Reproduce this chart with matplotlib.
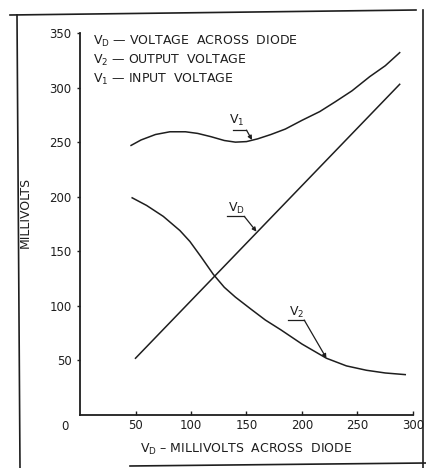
import matplotlib.pyplot as plt
from matplotlib.lines import Line2D

# values (millivolts)
v1_x = [46, 55, 68, 81, 95, 106, 118, 130, 140, 150, 160, 172, 185, 200, 216, 230, 245, 261, 275, 288]
v1_y = [247, 252, 257, 259.5, 259.5, 258, 255, 251.5, 250, 250.5, 253, 257, 262, 270, 278, 287, 297, 310, 320, 332]

v2_x = [47, 60, 75, 90, 99, 109, 120, 130, 140, 154, 167, 181, 200, 222, 240, 258, 275, 293]
v2_y = [199, 192, 182, 169, 159, 145, 129, 117, 108, 97, 87, 78, 65, 52, 45, 41, 38.5, 37]

vd_x = [50, 288]
vd_y = [52, 303]

x_ticks = [50, 100, 150, 200, 250, 300]
y_ticks = [50, 100, 150, 200, 250, 300, 350]

legend_lines = [r"$\mathregular{V_D}$ — VOLTAGE  ACROSS  DIODE",
                r"$\mathregular{V_2}$ — OUTPUT  VOLTAGE",
                r"$\mathregular{V_1}$ — INPUT  VOLTAGE"]

plt.rcParams["font.family"] = "DejaVu Sans"
ink = "#1e1e1e"

fig = plt.figure(figsize=(4.26, 4.68), dpi=100)
ax = fig.add_axes([80 / 426, 1 - 415 / 468, 333 / 426, 382 / 468])

ax.plot(v1_x, v1_y, color=ink, lw=1.1)
ax.plot(v2_x, v2_y, color=ink, lw=1.1)
ax.plot(vd_x, vd_y, color=ink, lw=1.1)

ax.set_xlim(0, 300)
ax.set_ylim(0, 350)
for s in ["top", "right"]:
    ax.spines[s].set_visible(False)
for s in ["left", "bottom"]:
    ax.spines[s].set_linewidth(1.3)
    ax.spines[s].set_color(ink)

ax.set_xticks(x_ticks)
ax.set_yticks(y_ticks)
ax.tick_params(axis="both", direction="in", length=3, width=1, colors=ink,
               labelsize=8.5, pad=3)
ax.tick_params(axis="y", direction="out", length=2, pad=4)

# shared origin label
ax.text(-0.045, -0.03, "0", transform=ax.transAxes, ha="center", va="center",
        fontsize=8.5, color=ink)

ax.set_xlabel(r"$\mathregular{V_D}$ – MILLIVOLTS  ACROSS  DIODE", fontsize=9,
              color=ink, labelpad=7)
ax.set_ylabel("MILLIVOLTS", fontsize=9, color=ink)
ax.yaxis.set_label_coords(-0.145, 0.53)

# legend block at top
for i, t in enumerate(legend_lines):
    ax.text(12, 342 - i * 17.5, t, fontsize=9, color=ink, ha="left", va="center")

# labels with underline and leader arrow
callouts = [("$\\mathregular{V_1}$", (141, 270), (137.5, 150), 261, (155, 252)),
            ("$\\mathregular{V_D}$", (141, 189), (132, 148), 182, (159, 168)),
            ("$\\mathregular{V_2}$", (195, 94), (187, 202), 87, (222, 52))]
for txt, pos, (u0, u1), uy, tip in callouts:
    ax.text(pos[0], pos[1], txt, fontsize=9, color=ink, ha="center", va="center")
    ax.plot([u0, u1], [uy, uy], color=ink, lw=0.9)
    ax.annotate("", xy=tip, xytext=(u1, uy),
                arrowprops=dict(arrowstyle="-|>", color=ink, lw=0.9,
                                mutation_scale=6, shrinkA=0, shrinkB=0))

# scanned page frame
W, H = 426, 468
frame = [((10, 15), (416, 10)),
         ((17, 15), (20, 468)),
         ((423, 10), (423, 468)),
         ((130, 466), (426, 463))]
for (x0, y0), (x1, y1) in frame:
    fig.add_artist(Line2D([x0 / W, x1 / W], [1 - y0 / H, 1 - y1 / H],
                          transform=fig.transFigure, color=ink, lw=1.2))

fig.savefig("out.png", dpi=100)
